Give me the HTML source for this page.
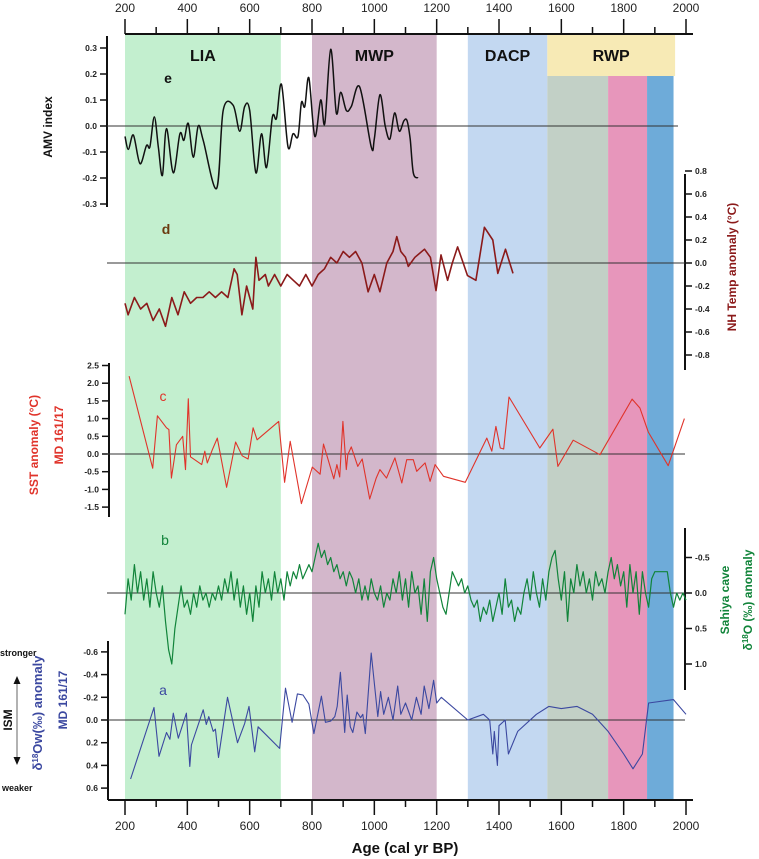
<!DOCTYPE html>
<html><head><meta charset="utf-8">
<style>
body{margin:0;background:#fff;}
svg{display:block;font-family:"Liberation Sans",sans-serif;}
.tk{font-size:8.5px;font-weight:bold;fill:#222;}
.ax{font-size:12px;fill:#222;}
</style></head>
<body>
<svg id="chart" width="759" height="859" viewBox="0 0 759 859" xmlns="http://www.w3.org/2000/svg"></svg>
<script>
// ---- data ----
const xTicks=[200,400,600,800,1000,1200,1400,1600,1800,2000];
const bandNames=['LIA','MWP','DACP','RWP'];
const bandStart=[200,800,1300,1555];
const bandEnd=[700,1200,1555,1965];
const subStart=[1555,1750,1875];
const subEnd=[1750,1875,1960];

const amvYears=[200,211,227,248,269,280,294,307,320,333,355,376,389,403,419,435,451,494,515,547,568,584,600,620,638,654,673,686,702,723,739,755,766,777,790,809,828,841,860,878,892,910,926,953,990,1000,1018,1035,1050,1065,1080,1095,1105,1115,1125,1140];
const amvVals=[-0.04,-0.09,-0.035,-0.145,-0.075,-0.08,0.035,-0.08,-0.19,-0.01,-0.18,-0.03,-0.055,0.01,-0.12,0.0,-0.055,-0.24,0.06,0.08,-0.02,0.075,0.06,-0.18,-0.03,-0.16,0.035,0.03,0.16,-0.08,-0.03,-0.04,0.09,0.075,0.185,-0.04,0.1,0.01,0.295,0.05,0.13,0.06,0.075,0.15,-0.08,-0.05,0.12,0.0,-0.05,0.05,-0.02,0.02,0.02,-0.05,-0.18,-0.2];

const nhYears=[200,210,230,250,270,290,310,330,350,370,390,410,430,450,470,490,510,530,550,560,575,590,610,620,630,650,660,680,700,720,740,760,780,800,820,840,860,880,900,920,940,960,980,1000,1018,1040,1060,1072,1085,1100,1109,1130,1161,1180,1198,1214,1235,1250,1267,1285,1299,1326,1353,1380,1396,1421,1445];
const nhVals=[-0.35,-0.45,-0.3,-0.4,-0.35,-0.5,-0.4,-0.55,-0.3,-0.45,-0.25,-0.35,-0.3,-0.3,-0.25,-0.3,-0.25,-0.3,-0.05,-0.1,-0.45,-0.2,-0.4,0.05,-0.15,-0.1,-0.2,-0.1,-0.2,-0.1,-0.15,-0.2,-0.1,-0.2,-0.1,-0.05,0.05,0.0,0.1,0.05,0.1,0.0,-0.25,-0.1,-0.25,0.0,0.1,0.23,0.1,0.05,-0.03,0.05,0.12,0.05,-0.24,0.07,-0.15,0.0,0.14,0.0,-0.11,-0.15,0.31,0.2,-0.09,0.12,-0.09];

const sstYears=[213,289,304,333,341,349,365,385,394,403,410,446,456,464,480,496,526,555,576,595,611,624,693,712,730,766,801,826,837,870,880,889,899,910,915,926,947,961,985,1006,1018,1039,1066,1088,1104,1125,1136,1163,1179,1195,1222,1292,1361,1377,1390,1404,1415,1432,1531,1573,1589,1638,1724,1827,1852,1879,1943,1995];
const sstVals=[2.2,-0.4,1.08,0.74,0.69,-0.68,0.26,0.5,-0.44,1.56,-0.08,-0.3,0.08,-0.25,0.12,0.45,-0.94,0.34,-0.05,-0.14,0.74,0.4,0.92,-0.8,0.36,-1.4,-0.37,-0.57,0.28,-0.7,-0.3,-0.65,0.92,-0.44,-0.02,0.2,-0.35,-0.14,-1.27,-0.68,-0.44,-0.68,-0.11,-0.82,-0.16,-0.16,-0.49,-0.25,-0.77,-0.3,-0.63,-0.8,0.45,0.08,0.78,0.17,0.14,1.61,0.17,0.7,-0.35,0.39,-0.02,1.55,1.3,0.62,-0.33,1.0];

const sahStart=200, sahStep=10;
const sahVals=[0.3,-0.2,0.1,-0.4,0.0,-0.3,0.1,-0.2,0.2,-0.3,0.0,0.2,-0.1,0.4,0.8,1.0,0.5,0.2,-0.1,0.2,0.1,0.3,0.0,0.2,-0.1,0.1,0.0,0.2,0.0,0.1,-0.1,0.1,-0.2,0.0,-0.3,0.1,-0.2,0.2,-0.1,0.3,0.0,0.4,-0.1,0.2,-0.3,0.0,-0.2,0.1,-0.3,0.0,-0.2,0.1,-0.3,-0.1,-0.3,-0.2,-0.4,-0.2,-0.3,-0.4,-0.3,-0.5,-0.7,-0.5,-0.6,-0.4,-0.5,-0.3,-0.4,-0.2,-0.3,-0.1,-0.3,-0.2,0.0,-0.2,0.1,-0.1,0.1,-0.2,0.0,0.1,-0.1,0.2,0.0,0.1,-0.2,0.0,-0.3,0.1,-0.2,0.2,-0.3,0.0,-0.1,0.3,-0.2,0.4,-0.3,-0.5,-0.2,0.0,0.2,0.3,0.0,-0.3,-0.2,-0.1,-0.2,0.0,-0.1,0.1,0.2,0.1,0.4,0.2,0.3,0.1,0.4,0.2,0.0,0.3,-0.2,0.2,0.1,0.4,0.2,0.3,0.0,-0.2,0.1,-0.3,0.0,0.2,-0.2,0.1,-0.3,-0.5,-0.6,-0.2,0.1,-0.3,0.4,-0.2,0.0,-0.4,-0.1,-0.3,0.0,-0.2,0.1,-0.3,-0.1,-0.2,0.0,-0.3,-0.5,-0.2,-0.4,-0.1,-0.3,0.2,-0.4,0.0,-0.3,0.3,-0.3,0.0,0.2,-0.2,-0.3,-0.3,-0.3,-0.3,-0.3,0.0,0.2,0.0,0.1,0.0,0.1];

const owYears=[218,293,309,333,344,355,371,397,408,413,451,461,469,483,490,500,529,561,584,598,616,627,696,715,736,753,771,790,806,830,843,860,873,881,891,905,913,923,931,944,956,963,971,990,1011,1020,1030,1045,1060,1075,1085,1100,1120,1135,1150,1160,1175,1190,1200,1215,1300,1350,1370,1380,1385,1395,1400,1420,1430,1460,1520,1560,1600,1650,1700,1750,1800,1830,1860,1880,1960,2000];
const owVals=[0.52,-0.11,0.32,0.11,0.17,-0.06,0.16,-0.06,0.41,0.22,-0.09,0.04,-0.03,0.1,0.08,0.33,-0.2,0.2,0.03,-0.12,0.28,0.06,0.25,-0.28,0.02,-0.23,-0.22,-0.14,0.12,-0.21,0.02,0.01,-0.03,-0.12,-0.42,0.11,-0.22,0.06,0.11,-0.07,-0.02,-0.05,0.12,-0.59,-0.03,-0.25,-0.05,-0.2,0.0,-0.3,-0.05,-0.15,0.0,-0.2,-0.05,-0.3,-0.1,-0.35,-0.15,-0.2,0.0,-0.05,0.0,0.3,0.1,0.4,0.05,0.0,0.3,0.1,-0.05,-0.12,-0.1,-0.12,-0.05,0.1,0.3,0.43,0.3,-0.15,-0.18,-0.05];

const amvTicks=[0.3,0.2,0.1,0.0,-0.1,-0.2,-0.3];
const nhTicks=[0.8,0.6,0.4,0.2,0.0,-0.2,-0.4,-0.6,-0.8];
const sstTicks=[2.5,2.0,1.5,1.0,0.5,0.0,-0.5,-1.0,-1.5];
const sahTicks=[-0.5,0.0,0.5,1.0];
const owTicks=[-0.6,-0.4,-0.2,0.0,0.2,0.4,0.6];

// ---- axis functions ----
const X=v=>125+(v-200)*0.31167;
const yAMV=v=>126-v*260;
const yNH=v=>263-v*115;
const ySST=v=>454-v*35.4;
const ySAH=v=>593+v*71;
const yOW=v=>720+v*113.5;

const svg=document.getElementById('chart');
const NS='http://www.w3.org/2000/svg';
function mk(tag,attrs,parent){const e=document.createElementNS(NS,tag);for(const k in attrs)e.setAttribute(k,attrs[k]);(parent||svg).appendChild(e);return e;}
function fmt(v,d){return v.toFixed(d);}

// bands
const bandColors=['#c3efcf','#d3b7cb','#c3d8f1','#f7eab5'];
bandNames.forEach((n,i)=>{
  const top=34, bot=(i===3)?76:800;
  const r=mk('rect',{x:X(bandStart[i]),y:top,width:X(bandEnd[i])-X(bandStart[i]),height:bot-top,fill:bandColors[i]});
  
  
  const t=mk('text',{x:(X(bandStart[i])+X(bandEnd[i]))/2,y:61,'text-anchor':'middle','font-size':'16','font-weight':'bold',fill:'#111'});
  t.textContent=n;
  
  
});
const subColors=['#c2d0c6','#e796bb','#6eabd9'];
subStart.forEach((s,i)=>{
  const r=mk('rect',{x:X(s),y:76,width:X(subEnd[i])-X(s),height:724,fill:subColors[i]});
  
  
});

// top & bottom axes
[[34,-1],[800,1]].forEach(([y,dir],k)=>{
  const g=mk('g',{});
  
  
  mk('line',{x1:k?108:125,x2:693,y1:y,y2:y,stroke:'#111','stroke-width':2},g);
  for(let v=200;v<=2000;v+=100){
    const major=v%200===0;
    mk('line',{x1:X(v),x2:X(v),y1:y,y2:y+dir*(major?15:7),stroke:'#111','stroke-width':1.5},g);
  }
  xTicks.forEach(v=>{const t=mk('text',{x:X(v),y:k?830:12,'text-anchor':'middle',class:'ax'},g);t.textContent=v;});
});
const xt=mk('text',{x:405,y:853,'text-anchor':'middle','font-size':'15','font-weight':'bold',fill:'#111'});
xt.textContent='Age (cal yr BP)';



// y axes
function yAxis(name,x,y1,y2,ticks,f,dec,side){
  const g=mk('g',{});
  
  
  mk('line',{x1:x,x2:x,y1:y1,y2:y2,stroke:'#111','stroke-width':2},g);
  ticks.forEach(v=>{
    const y=f(v);
    mk('line',{x1:x,x2:x+side*7,y1:y,y2:y,stroke:'#111','stroke-width':1.5},g);
    const t=mk('text',{x:x+side*10,y:y+3,'text-anchor':side<0?'end':'start',class:'tk'},g);
    t.textContent=fmt(v,dec);
  });
}
yAxis('amv-y-axis',107,36,207,amvTicks,yAMV,1,-1);
yAxis('nh-temp-y-axis',685,174,370,nhTicks,yNH,1,1);
yAxis('sst-y-axis',109,363,517,sstTicks,ySST,1,-1);
yAxis('sahiya-y-axis',685,528,690,sahTicks,ySAH,1,1);
yAxis('ow-y-axis',108,641,800,owTicks,yOW,1,-1);

// zero lines
[[yAMV(0),107,678,'amv-zero-line'],[yNH(0),107,685,'nh-zero-line'],[ySST(0),107,685,'sst-zero-line'],[ySAH(0),107,685,'sahiya-zero-line'],[yOW(0),108,685,'ow-zero-line']].forEach(([y,a,b,n])=>{
  const l=mk('line',{x1:a,x2:b,y1:y,y2:y,stroke:'#333','stroke-width':1});
  
  
});

// series
function series(name,xs,ys,fy,color,w,smooth){
  const P=xs.map((v,i)=>[X(v),fy(ys[i])]);
  let d='M'+P[0][0].toFixed(1)+','+P[0][1].toFixed(1);
  for(let i=1;i<P.length;i++){
    if(smooth){
      const p0=P[Math.max(0,i-2)],p1=P[i-1],p2=P[i],p3=P[Math.min(P.length-1,i+1)];
      const c1=[p1[0]+(p2[0]-p0[0])/6,p1[1]+(p2[1]-p0[1])/6];
      const c2=[p2[0]-(p3[0]-p1[0])/6,p2[1]-(p3[1]-p1[1])/6];
      d+='C'+c1[0].toFixed(1)+','+c1[1].toFixed(1)+' '+c2[0].toFixed(1)+','+c2[1].toFixed(1)+' '+p2[0].toFixed(1)+','+p2[1].toFixed(1);
    } else d+='L'+P[i][0].toFixed(1)+','+P[i][1].toFixed(1);
  }
  const p=mk('path',{d:d,fill:'none',stroke:color,'stroke-width':w,'stroke-linejoin':'round'});
  
  
}
series('amv-series-e',amvYears,amvVals,yAMV,'#111',1.5,true);
series('nh-temp-series-d',nhYears,nhVals,yNH,'#8b1a1a',1.6,false);
series('sst-series-c',sstYears,sstVals,ySST,'#e0332a',1.1,false);
series('sahiya-series-b',sahVals.map((v,i)=>sahStart+i*sahStep),sahVals,ySAH,'#11843a',1.2,false);
series('ow-series-a',owYears,owVals,yOW,'#3b48a0',1.1,false);

// letters
[['e',168,83,'#111'],['d',166,234,'#6b3a10'],['c',163,401,'#e0332a'],['b',165,545,'#11843a'],['a',163,695,'#3b48a0']].forEach(([s,x,y,c])=>{
  const t=mk('text',{x:x,y:y,'font-size':'14','font-weight':s==='e'||s==='d'?'bold':'normal',fill:c,'text-anchor':'middle'});
  t.textContent=s;
  
  
});

// rotated titles
function vtext(name,txt,x,y,color,size,rot){
  const t=mk('text',{x:0,y:0,transform:`translate(${x},${y}) rotate(${rot})`,'text-anchor':'middle','font-size':size,'font-weight':'bold',fill:color});
  t.innerHTML=txt;
  
  
}
vtext('amv-axis-title','AMV index',52,127,'#111',12,-90);
vtext('sst-axis-title','SST anomaly (°C)',38,445,'#e0332a',12,-90);
vtext('sst-core-title','MD 161/17',63,435,'#e0332a',12,-90);
vtext('nh-axis-title','NH Temp anomaly (°C)',736,267,'#8b1a1a',12,-90);
vtext('sahiya-title-1','Sahiya cave',729,600,'#11843a',12,-90);
vtext('sahiya-title-2','δ<tspan baseline-shift="super" font-size="8">18</tspan>O (‰) anomaly',752,600,'#11843a',12,-90);
vtext('ow-axis-title','δ<tspan baseline-shift="super" font-size="8">18</tspan>Ow(‰) anomaly',42,713,'#3b48a0',13,-90);
vtext('ow-core-title','MD 161/17',67,700,'#3b48a0',12,-90);
vtext('ism-label','ISM',12,720,'#111',12,-90);
const s1=mk('text',{x:0,y:656,'font-size':'9','font-weight':'bold',fill:'#111'});s1.textContent='stronger';


const s2=mk('text',{x:2,y:791,'font-size':'9','font-weight':'bold',fill:'#111'});s2.textContent='weaker';


const ar=mk('g',{});


mk('line',{x1:17,x2:17,y1:683,y2:758,stroke:'#999','stroke-width':1.5},ar);
mk('path',{d:'M13.5,684 L17,676 L20.5,684Z',fill:'#111'},ar);
mk('path',{d:'M13.5,757 L17,765 L20.5,757Z',fill:'#111'},ar);
</script>
</body></html>
